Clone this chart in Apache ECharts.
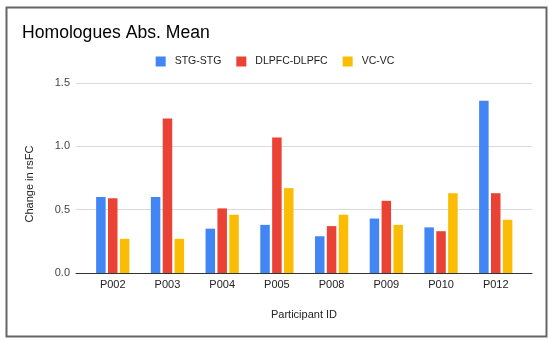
<!DOCTYPE html>
<html>
<head>
<meta charset="utf-8">
<script src="https://cdn.jsdelivr.net/npm/echarts@6/dist/echarts.min.js"></script>
<style>
html,body{margin:0;padding:0;background:#fff;}
#chart{width:550px;height:340px;}
</style>
</head>
<body>
<div id="chart"></div>
<script>
const categories = ['P002','P003','P004','P005','P008','P009','P010','P012'];
const stgValues = [0.60, 0.60, 0.35, 0.38, 0.29, 0.43, 0.36, 1.36];
const dlpfcValues = [0.59, 1.22, 0.51, 1.07, 0.37, 0.57, 0.33, 0.63];
const vcValues = [0.27, 0.27, 0.46, 0.67, 0.46, 0.38, 0.63, 0.42];
const seriesNames = ['STG-STG', 'DLPFC-DLPFC', 'VC-VC'];
const colors = ['#4285F4', '#EA4335', '#FBBC04'];

const font = 'Liberation Sans, Arial, sans-serif';
const chart = echarts.init(document.getElementById('chart'), null, {renderer: 'canvas'});

const barCommon = {type: 'bar', xAxisIndex: 1, yAxisIndex: 1, barWidth: 9.5, barGap: '25%', barCategoryGap: '0%'};

chart.setOption({
  animation: false,
  backgroundColor: '#fff',
  color: colors,
  title: {
    text: 'Homologues Abs. Mean',
    left: 22, top: 24, padding: 0,
    textStyle: {fontFamily: font, fontSize: 17.6, fontWeight: 'normal', color: '#000'}
  },
  legend: {
    top: 56, left: 'center', padding: 0,
    icon: 'rect', itemWidth: 10, itemHeight: 10, itemGap: 15,
    textStyle: {fontFamily: font, fontSize: 10.5, color: '#222', padding: [0,0,0,4]},
    data: seriesNames
  },
  grid: [
    {left: 76, right: 18, top: 83, bottom: 67},
    {left: 85.4, right: 26.9, top: 83, bottom: 67}
  ],
  xAxis: [
    {
      type: 'category', gridIndex: 0, data: categories,
      axisLine: {show: true, lineStyle: {color: '#333', width: 1}},
      axisTick: {show: false}, axisLabel: {show: false}, splitLine: {show: false},
      name: 'Participant ID', nameLocation: 'middle', nameGap: 36,
      nameTextStyle: {fontFamily: font, fontSize: 11, color: '#222'}
    },
    {
      type: 'category', gridIndex: 1, data: categories,
      axisLine: {show: false}, axisTick: {show: false},
      axisLabel: {fontFamily: font, fontSize: 11, color: '#222', margin: 6}
    }
  ],
  yAxis: [
    {
      type: 'value', gridIndex: 0, min: 0, max: 1.5, interval: 0.5,
      axisLine: {show: false}, axisTick: {show: false},
      axisLabel: {fontFamily: font, fontSize: 11, color: '#444', margin: 6,
        formatter: v => v.toFixed(1)},
      splitLine: {lineStyle: {color: '#d9d9d9', width: 1}},
      name: 'Change in rsFC', nameLocation: 'middle', nameGap: 41,
      nameTextStyle: {fontFamily: font, fontSize: 11, color: '#222', padding: [0, 12, 0, 0]}
    },
    {
      type: 'value', gridIndex: 1, min: 0, max: 1.5, interval: 0.5,
      axisLine: {show: false}, axisTick: {show: false}, axisLabel: {show: false},
      splitLine: {show: false}
    }
  ],
  series: [
    Object.assign({name: seriesNames[0], data: stgValues}, barCommon),
    Object.assign({name: seriesNames[1], data: dlpfcValues}, barCommon),
    Object.assign({name: seriesNames[2], data: vcValues}, barCommon)
  ],
  graphic: [{
    type: 'rect', left: 4, top: 5, z: 100, silent: true,
    shape: {width: 540, height: 329},
    style: {fill: 'none', stroke: '#666', lineWidth: 2}
  }]
});
</script>
</body>
</html>
